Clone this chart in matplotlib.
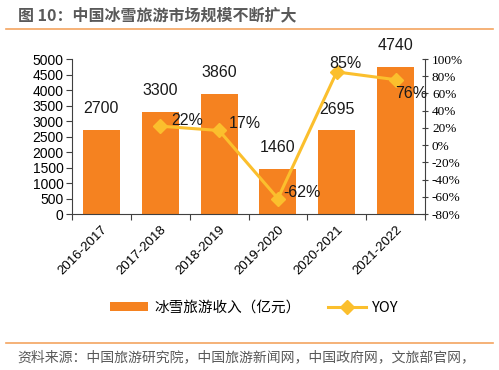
import matplotlib
matplotlib.use('Agg')
import matplotlib.pyplot as plt
from matplotlib.lines import Line2D
from matplotlib.patches import Patch

# Data
seasons = ['2016-2017', '2017-2018', '2018-2019', '2019-2020', '2020-2021', '2021-2022']
revenue = [2700, 3300, 3860, 1460, 2695, 4740]
yoy_seasons = seasons[1:]
yoy = [22, 17, -62, 85, 76]

# Style
BAR_COLOR = '#F58220'
LINE_COLOR = '#FBBF2D'
TEXT_GRAY = '#595959'
RULE_COLOR = '#F4A460'
CJK = ['Noto Sans CJK SC', 'DejaVu Sans']
SANS = 'Liberation Sans'
SERIF = 'Liberation Serif'
# label offsets (points) for YOY annotations
yoy_offsets = [(8, 4), (7, 5), (4, 4), (6, 6), (0, -10)]
yoy_align = ['left', 'left', 'left', 'center', 'left']

fig = plt.figure(figsize=(4.99, 3.70), dpi=100)
ax = fig.add_axes([0.1443, 0.4216, 0.7074, 0.4189])
x = list(range(len(seasons)))

ax.bar(x, revenue, width=0.63, color=BAR_COLOR, zorder=2)
ax.set_xlim(-0.5, len(seasons) - 0.5)
ax.set_ylim(0, 5000)
ax.set_yticks(range(0, 5001, 500))
ax.set_yticklabels([str(v) for v in range(0, 5001, 500)], fontfamily=SANS, fontsize=10)
for xi, v in zip(x, revenue):
    ax.annotate(str(v), (xi, v), xytext=(0, 10), textcoords='offset points',
                ha='center', va='bottom', fontsize=11.5, fontfamily=SANS, color='#1a1a1a')

ax.set_xticks([i + 0.5 for i in range(-1, len(seasons))], minor=False)
ax.set_xticklabels([''] * (len(seasons) + 1))
ax.set_xticks(x, minor=True)
ax.set_xticklabels(seasons, minor=True, rotation=45, ha='right', rotation_mode='anchor',
                   fontfamily=SANS, fontsize=9.5)
ax.tick_params(axis='x', which='minor', length=0, pad=7)
ax.tick_params(axis='x', which='major', length=4, color='#404040')
ax.tick_params(axis='y', length=4, color='#404040', pad=2)

for s in ['top', 'right']:
    ax.spines[s].set_visible(False)
for s in ['left', 'bottom']:
    ax.spines[s].set_color('#404040')
    ax.spines[s].set_linewidth(0.8)

ax2 = ax.twinx()
ax2.set_ylim(-80, 100)
ax2.set_yticks(range(-80, 101, 20))
ax2.set_yticklabels([f'{v}%' for v in range(-80, 101, 20)], fontfamily=SERIF, fontsize=9.5)
ax2.tick_params(axis='y', length=4, direction='inout', color='#404040', pad=3)
for s in ['top', 'left', 'bottom']:
    ax2.spines[s].set_visible(False)
ax2.spines['right'].set_color('#404040')
ax2.spines['right'].set_linewidth(0.8)

yx = [seasons.index(s) for s in yoy_seasons]
ax2.plot(yx, yoy, color=LINE_COLOR, lw=2.2, marker='D', markersize=7, zorder=3)
for xi, v, off, ha in zip(yx, yoy, yoy_offsets, yoy_align):
    ax2.annotate(f'{v}%', (xi, v), xytext=off, textcoords='offset points',
                 ha=ha, va='center', fontsize=11.5, fontfamily=SANS, color='#1a1a1a')

# Title and rules
fig.text(0.036, 0.958, '图 10：中国冰雪旅游市场规模不断扩大', fontsize=11.5, fontweight='bold',
         color=TEXT_GRAY, family=CJK, va='center')
fig.add_artist(Line2D([0.012, 0.988], [0.922, 0.922], color=RULE_COLOR, lw=1.2))
fig.add_artist(Line2D([0.012, 0.988], [0.073, 0.073], color=RULE_COLOR, lw=1.2))
fig.text(0.034, 0.035, '资料来源：中国旅游研究院，中国旅游新闻网，中国政府网，文旅部官网，',
         fontsize=10, color=TEXT_GRAY, family=CJK, va='center')

handles = [Patch(facecolor=BAR_COLOR), Line2D([], [], color=LINE_COLOR, lw=2.2, marker='D', markersize=7)]
fig.legend(handles, ['冰雪旅游收入（亿元）', 'YOY'], loc='center', bbox_to_anchor=(0.51, 0.168),
           ncol=2, frameon=False, prop={'family': CJK, 'size': 10.5}, handlelength=2.6,
           handleheight=0.6, columnspacing=1.9, handletextpad=0.4)

fig.savefig('out.png', dpi=100)
